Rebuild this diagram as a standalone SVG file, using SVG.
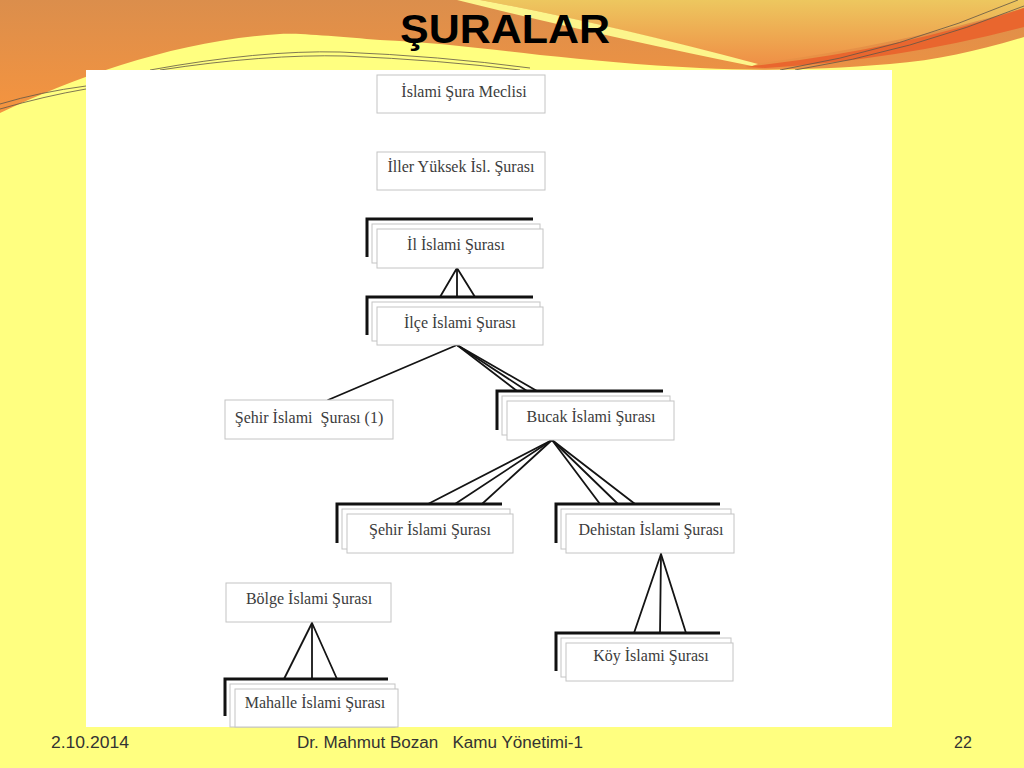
<svg xmlns="http://www.w3.org/2000/svg" width="1024" height="768" viewBox="0 0 1024 768">
<defs>
<linearGradient id="gOrange" x1="0" y1="0" x2="0" y2="113" gradientUnits="userSpaceOnUse">
<stop offset="0" stop-color="#DB8E4C"/>
<stop offset="1" stop-color="#F5943F"/>
</linearGradient>
<linearGradient id="gMustard" x1="0" y1="0" x2="0" y2="66" gradientUnits="userSpaceOnUse">
<stop offset="0" stop-color="#EDC75F"/>
<stop offset="1" stop-color="#EF8E45"/>
</linearGradient>
<style>
.box{fill:#ffffff;stroke:#c4c4c4;stroke-width:1}
.mid{fill:#ffffff;stroke:#c4c4c4;stroke-width:1}
.back{fill:none;stroke:#111111;stroke-width:3}
.lbl{font-family:"Liberation Serif","Times New Roman",serif;font-size:16px;fill:#3c3c3c;text-anchor:middle}
.conn line{stroke:#141414;stroke-width:1.8;stroke-linecap:round}
.thin{fill:none;stroke:#5f5646;stroke-width:0.8}
.foot{font-family:"Liberation Sans",Arial,sans-serif;font-size:16px;fill:#333333}
</style>
</defs>
<!-- background -->
<rect x="0" y="0" width="1024" height="768" fill="#FFFF80"/>
<path d="M0,0 H1024 V37 C980,50 940,60 890,64 C820,70 760,71 700,68 C640,65 590,60 540,55 C480,48 430,42 380,40 C340,37 300,33 280,34 C180,40 80,75 0,113 Z" fill="url(#gOrange)"/>
<path d="M480,0 Q600,22 755,64 Q900,45 1024,8 V0 Z" fill="url(#gMustard)"/>
<path d="M457,0 H480 Q600,22 758,64 L752,66 Q590,33 457,0 Z" fill="#FCF58C"/>
<path d="M745,67 Q900,50 1024,8 V27 Q900,60 765,68 Z" fill="#E9662E"/>
<path class="thin" d="M0,104 Q40,92 86,86"/>
<path class="thin" d="M0,109 Q45,96 86,89"/>
<path class="thin" d="M150,70 Q260,50 340,52 Q440,56 530,68"/>
<path class="thin" d="M160,70 Q265,54 345,56 Q440,60 520,70"/>
<path class="thin" d="M780,70 Q900,50 1018,0"/>
<path class="thin" d="M795,70 Q910,52 1024,6"/>
<!-- title -->
<text x="400" y="43" font-family="'Liberation Sans',Arial,sans-serif" font-size="40" font-weight="bold" fill="#000000" textLength="210" lengthAdjust="spacingAndGlyphs">ŞURALAR</text>
<!-- white panel -->
<rect x="86" y="70" width="806" height="657" fill="#ffffff"/>
<!-- connectors -->
<g id="connectors" class="conn">
<line x1="457" y1="268" x2="440" y2="297"/>
<line x1="457" y1="268" x2="457" y2="297"/>
<line x1="457" y1="268" x2="475" y2="297"/>
<line x1="457" y1="345" x2="328" y2="400"/>
<line x1="457" y1="345" x2="517" y2="391"/>
<line x1="457" y1="345" x2="527" y2="391"/>
<line x1="457" y1="345" x2="537" y2="391"/>
<line x1="552" y1="440" x2="428" y2="504"/>
<line x1="552" y1="440" x2="455" y2="504"/>
<line x1="552" y1="440" x2="482" y2="504"/>
<line x1="552" y1="440" x2="600" y2="504"/>
<line x1="552" y1="440" x2="618" y2="504"/>
<line x1="552" y1="440" x2="635" y2="504"/>
<line x1="661" y1="554" x2="634" y2="633"/>
<line x1="661" y1="554" x2="660" y2="633"/>
<line x1="661" y1="554" x2="686" y2="633"/>
<line x1="312" y1="623" x2="284" y2="679"/>
<line x1="312" y1="623" x2="312" y2="679"/>
<line x1="312" y1="623" x2="337" y2="679"/>
</g>
<!-- nodes -->
<g id="node-meclis">
<rect class="box" x="377" y="75" width="168" height="38"/>
<text class="lbl" x="464" y="97">İslami Şura Meclisi</text>
</g>
<g id="node-iller">
<rect class="box" x="377" y="152" width="168" height="38"/>
<text class="lbl" x="461" y="172">İller Yüksek İsl. Şurası</text>
</g>
<g id="node-il">
<path class="back" d="M367,257 V219 H533"/>
<rect class="mid" x="372" y="224" width="168" height="39"/>
<rect class="box" x="377" y="229" width="166" height="39"/>
<text class="lbl" x="456" y="250">İl İslami Şurası</text>
</g>
<g id="node-ilce">
<path class="back" d="M367,335 V297 H533"/>
<rect class="mid" x="372" y="302" width="168" height="39"/>
<rect class="box" x="377" y="307" width="166" height="38"/>
<text class="lbl" x="460" y="328">İlçe İslami Şurası</text>
</g>
<g id="node-sehir1">
<rect class="box" x="225" y="400" width="168" height="39"/>
<text class="lbl" x="309" y="423" xml:space="preserve">Şehir İslami  Şurası (1)</text>
</g>
<g id="node-bucak">
<path class="back" d="M497,430 V391 H663"/>
<rect class="mid" x="502" y="396" width="168" height="39"/>
<rect class="box" x="507" y="401" width="167" height="39"/>
<text class="lbl" x="591" y="422">Bucak İslami Şurası</text>
</g>
<g id="node-sehir2">
<path class="back" d="M337,543 V504 H502"/>
<rect class="mid" x="342" y="509" width="168" height="40"/>
<rect class="box" x="347" y="514" width="166" height="39"/>
<text class="lbl" x="430" y="535">Şehir İslami Şurası</text>
</g>
<g id="node-dehistan">
<path class="back" d="M556,543 V504 H720"/>
<rect class="mid" x="561" y="509" width="170" height="40"/>
<rect class="box" x="566" y="514" width="168" height="39"/>
<text class="lbl" x="651" y="535">Dehistan İslami Şurası</text>
</g>
<g id="node-bolge">
<rect class="box" x="226" y="583" width="165" height="39"/>
<text class="lbl" x="309" y="604">Bölge İslami Şurası</text>
</g>
<g id="node-koy">
<path class="back" d="M556,671 V633 H720"/>
<rect class="mid" x="561" y="638" width="170" height="39"/>
<rect class="box" x="566" y="643" width="167" height="38"/>
<text class="lbl" x="651" y="661">Köy İslami Şurası</text>
</g>
<g id="node-mahalle">
<path class="back" d="M225,716 V679 H388"/>
<rect class="mid" x="230" y="684" width="165" height="43"/>
<rect class="box" x="235" y="689" width="163" height="38"/>
<text class="lbl" x="315" y="708">Mahalle İslami Şurası</text>
</g>
<!-- footer -->
<text class="foot" x="51" y="748" textLength="78" lengthAdjust="spacingAndGlyphs">2.10.2014</text>
<text class="foot" x="297" y="748" xml:space="preserve" textLength="286" lengthAdjust="spacingAndGlyphs">Dr. Mahmut Bozan   Kamu Yönetimi-1</text>
<text class="foot" x="954" y="748">22</text>
</svg>
